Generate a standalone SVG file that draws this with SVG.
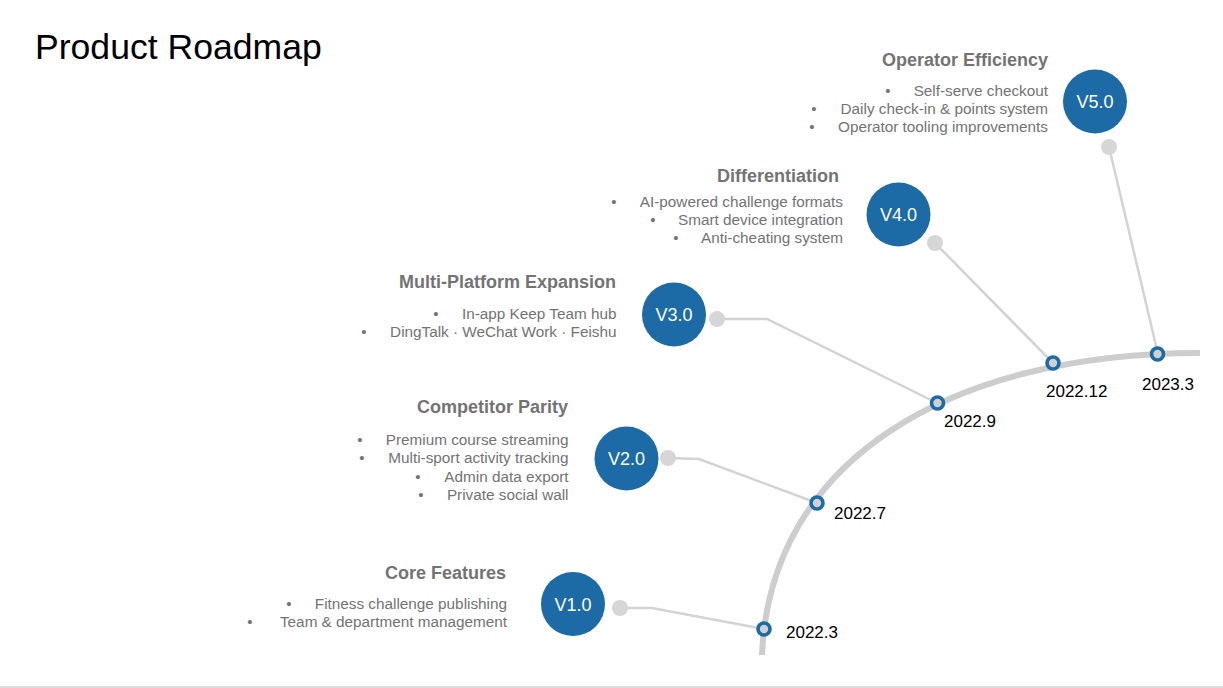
<svg xmlns="http://www.w3.org/2000/svg" width="1223" height="688" viewBox="0 0 1223 688">
<style>
  text { font-family: "Liberation Sans", Arial, sans-serif; }
  .ver { fill: #1c6aa6; }
  .vt { fill: #ffffff; font-size: 18px; text-anchor: middle; }
  .ttl { fill: #737373; font-size: 18px; font-weight: bold; text-anchor: end; }
  .itm { fill: #737373; font-size: 15.3px; text-anchor: end; }
  .bul { fill: #737373; font-size: 15px; text-anchor: middle; }
  .dot { fill: #d6d6d6; }
  .conn { fill: none; stroke: #d3d3d3; stroke-width: 2.5; }
  .mk { fill: #d0d0d0; stroke: #1c6aa6; stroke-width: 3.6; }
  .date { fill: #000000; font-size: 17px; }
</style>
<rect width="1223" height="688" fill="#ffffff"/>
<text x="35" y="59" font-size="35.6" fill="#000000">Product Roadmap</text>
<line x1="0" y1="687" x2="1223" y2="687" stroke="#d0d0d0" stroke-width="1.5"/>

<g id="timeline">
  <path d="M762,655 C770,460 950,353 1200,353" fill="none" stroke="#cdcdcd" stroke-width="6"/>
</g>

<g id="connectors">
  <polyline class="conn" points="620,608 652,608 764,629"/>
  <polyline class="conn" points="668,458 699,459 817,503"/>
  <polyline class="conn" points="717,319 767,319 937,403"/>
  <polyline class="conn" points="935,243 1053,363"/>
  <polyline class="conn" points="1109,147 1158,354"/>
  <circle class="dot" cx="620" cy="608" r="8"/>
  <circle class="dot" cx="668" cy="458" r="8"/>
  <circle class="dot" cx="717" cy="319" r="8"/>
  <circle class="dot" cx="935" cy="243" r="8"/>
  <circle class="dot" cx="1109" cy="147" r="8"/>
</g>

<g id="m2022-3"><circle class="mk" cx="764" cy="629" r="6"/><text class="date" x="786" y="638">2022.3</text></g>
<g id="m2022-7"><circle class="mk" cx="817" cy="503" r="6"/><text class="date" x="834" y="519">2022.7</text></g>
<g id="m2022-9"><circle class="mk" cx="937.5" cy="403" r="6"/><text class="date" x="944" y="427">2022.9</text></g>
<g id="m2022-12"><circle class="mk" cx="1053" cy="363" r="6"/><text class="date" x="1046" y="397">2022.12</text></g>
<g id="m2023-3"><circle class="mk" cx="1157.5" cy="354" r="6"/><text class="date" x="1142" y="390">2023.3</text></g>

<g id="v1">
  <circle class="ver" cx="573" cy="604" r="32"/>
  <text class="vt" x="573" y="610.5">V1.0</text>
  <text class="ttl" x="506" y="578.5">Core Features</text>
  <text class="bul" x="289" y="609">•</text><text class="itm" x="507" y="609">Fitness challenge publishing</text>
  <text class="bul" x="250" y="627">•</text><text class="itm" x="507" y="627">Team &amp; department management</text>
</g>

<g id="v2">
  <circle class="ver" cx="626.5" cy="458.5" r="32"/>
  <text class="vt" x="626.5" y="465">V2.0</text>
  <text class="ttl" x="568" y="413">Competitor Parity</text>
  <text class="bul" x="360" y="445">•</text><text class="itm" x="568.5" y="445">Premium course streaming</text>
  <text class="bul" x="362" y="463.3">•</text><text class="itm" x="568.5" y="463.3">Multi-sport activity tracking</text>
  <text class="bul" x="418" y="481.7">•</text><text class="itm" x="568.5" y="481.7">Admin data export</text>
  <text class="bul" x="421" y="500">•</text><text class="itm" x="568.5" y="500">Private social wall</text>
</g>

<g id="v3">
  <circle class="ver" cx="674" cy="314.5" r="32"/>
  <text class="vt" x="674" y="321">V3.0</text>
  <text class="ttl" x="616" y="287.5">Multi-Platform Expansion</text>
  <text class="bul" x="436" y="319">•</text><text class="itm" x="616.5" y="319">In-app Keep Team hub</text>
  <text class="bul" x="364" y="336.7">•</text><text class="itm" x="616.5" y="336.7">DingTalk · WeChat Work · Feishu</text>
</g>

<g id="v4">
  <circle class="ver" cx="898.5" cy="214.5" r="32"/>
  <text class="vt" x="898.5" y="221">V4.0</text>
  <text class="ttl" x="839" y="182">Differentiation</text>
  <text class="bul" x="614" y="206.5">•</text><text class="itm" x="843" y="206.5">AI-powered challenge formats</text>
  <text class="bul" x="653" y="224.5">•</text><text class="itm" x="843" y="224.5">Smart device integration</text>
  <text class="bul" x="676" y="242.5">•</text><text class="itm" x="843" y="242.5">Anti-cheating system</text>
</g>

<g id="v5">
  <circle class="ver" cx="1095" cy="101.5" r="32"/>
  <text class="vt" x="1095" y="108">V5.0</text>
  <text class="ttl" x="1048" y="65.5">Operator Efficiency</text>
  <text class="bul" x="888" y="96">•</text><text class="itm" x="1048" y="96">Self-serve checkout</text>
  <text class="bul" x="814" y="114">•</text><text class="itm" x="1048" y="114">Daily check-in &amp; points system</text>
  <text class="bul" x="812" y="132">•</text><text class="itm" x="1048" y="132">Operator tooling improvements</text>
</g>
</svg>
